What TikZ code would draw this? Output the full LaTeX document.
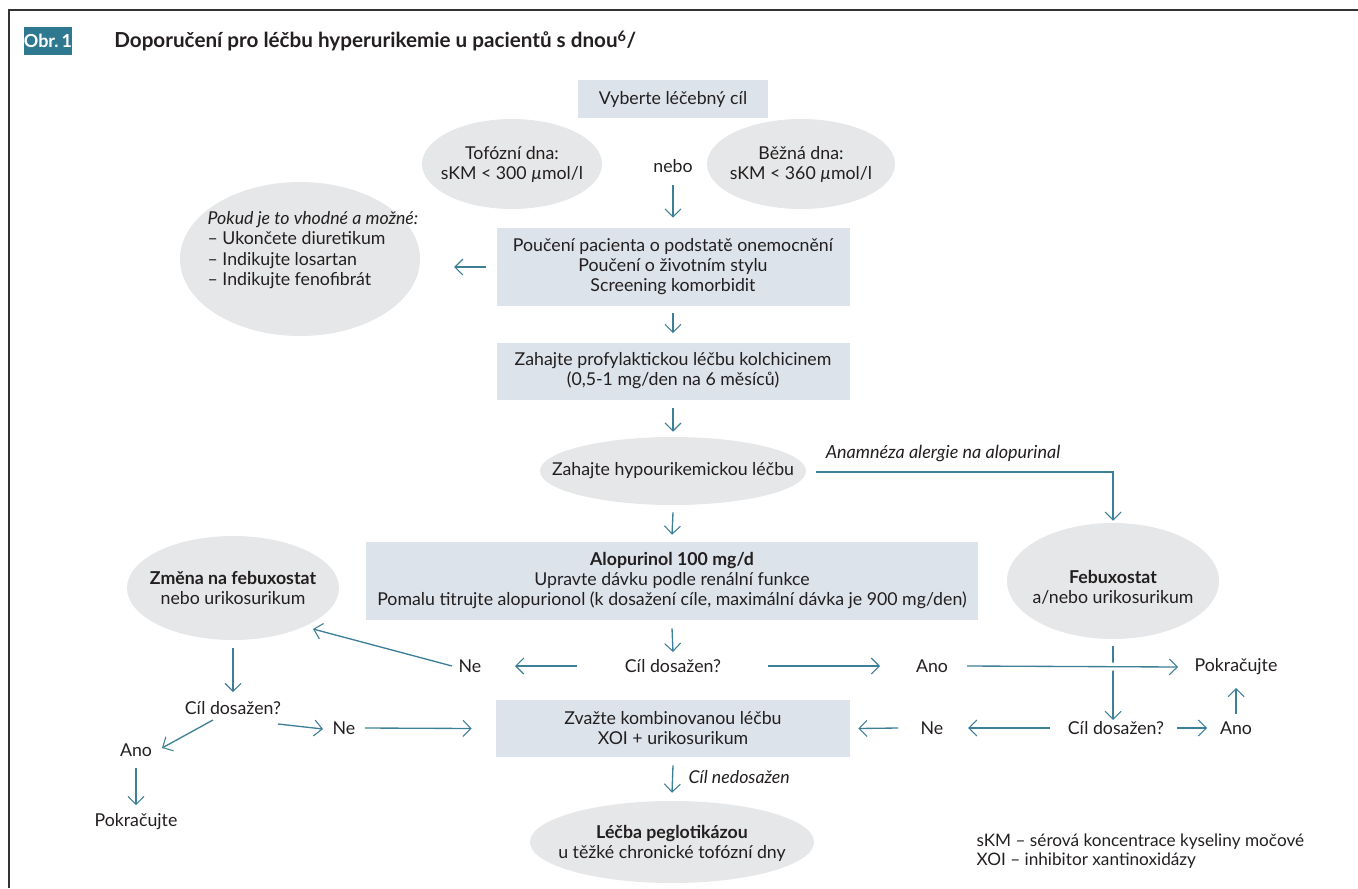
\documentclass[tikz,border=0pt]{standalone}
\usepackage{fontspec}
\setmainfont{Lato}
\usetikzlibrary{arrows.meta,shapes.geometric,calc}
\definecolor{teal1}{HTML}{3E7F98}
\definecolor{tagc}{HTML}{2E7890}
\definecolor{boxc}{HTML}{DCE3EA}
\definecolor{ellc}{HTML}{E6E7E8}
\definecolor{txt}{HTML}{231F20}
\tikzset{
  every node/.style={text=txt, font=\fontsize{13.3}{15}\selectfont},
  gbox/.style={fill=boxc, draw=none, inner sep=0pt, align=center},
  gell/.style={ellipse, fill=ellc, draw=none, inner sep=0pt},
  lbl/.style={inner sep=1pt, align=center},
  arr/.style={draw=teal1, line width=1pt, -{Straight Barb[length=6pt,width=12pt,line width=0.8pt]}},
}
\begin{document}
\begin{tikzpicture}[x=0.75pt,y=-0.75pt]
\useasboundingbox (0,0) rectangle (1358,888);
\draw[line width=1.1pt, color=black!80] (9,888) -- (9,10) -- (1358,10);
% title
\node[fill=tagc, text=white, font=\fontsize{13.5}{15}\bfseries, minimum width=46*0.75pt, minimum height=28*0.75pt, inner sep=0pt] (tag) at (48,41) {Obr.\,1};
\node[anchor=west, font=\fontsize{15.5}{17}\bfseries, inner sep=0pt] (title) at (114,41) {Doporučení pro léčbu hyperurikemie u pacientů s dnou\textsuperscript{6}/};
% nodes
\node[gbox, minimum width=190*0.75pt, minimum height=38*0.75pt] (b1) at (673,99) {Vyberte léčebný cíl};
\node[gell, minimum width=180*0.75pt, minimum height=90*0.75pt] (e1) at (512,164) {};
\node[lbl] (e1t) at (512,164) {Tofózní dna:\\sKM < 300 \textit{µ}mol/l};
\node[lbl] (nebo) at (673,166) {nebo};
\node[gell, minimum width=188*0.75pt, minimum height=90*0.75pt] (e2) at (801,164) {};
\node[lbl] (e2t) at (801,164) {Běžná dna:\\sKM < 360 \textit{µ}mol/l};
\node[gbox, minimum width=353*0.75pt, minimum height=78*0.75pt] (b2) at (673,267) {Poučení pacienta o podstatě onemocnění\\Poučení o životním stylu\\Screening komorbidit};
\node[gell, minimum width=240*0.75pt, minimum height=154*0.75pt] (e3) at (300,259) {};
\node[lbl, anchor=west, align=left, font=\fontsize{13.3}{15.4}\selectfont] (e3t) at (206,250) {\textit{Pokud je to vhodné a možné:}\\– Ukončete diuretikum\\– Indikujte losartan\\– Indikujte fenofibrát};
\node[gbox, minimum width=353*0.75pt, minimum height=57*0.75pt] (b3) at (673,371) {Zahajte profylaktickou léčbu kolchicinem\\(0,5-1 mg/den na 6 měsíců)};
\node[gell, minimum width=266*0.75pt, minimum height=68*0.75pt] (e4) at (673,471) {};
\node[lbl] (e4t) at (673,471) {Zahajte hypourikemickou léčbu};
\node[lbl, font=\fontsize{13.5}{15}\itshape] (allerg) at (943,454) {Anamnéza alergie na alopurinal};
\node[gbox, minimum width=612*0.75pt, minimum height=78*0.75pt] (b4) at (672,581) {\textbf{Alopurinol 100 mg/d}\\Upravte dávku podle renální funkce\\Pomalu titrujte alopurionol (k dosažení cíle, maximální dávka je 900 mg/den)};
\node[gell, minimum width=212*0.75pt, minimum height=104*0.75pt] (e5) at (233,588) {};
\node[lbl] (e5t) at (233,588) {\textbf{Změna na febuxostat}\\nebo urikosurikum};
\node[gell, minimum width=212*0.75pt, minimum height=116*0.75pt] (e6) at (1113,581) {};
\node[lbl] (e6t) at (1113,587) {\textbf{Febuxostat}\\a/nebo urikosurikum};
\node[lbl] (c1) at (673,666) {Cíl dosažen?};
\node[lbl] (ne1) at (470,666) {Ne};
\node[lbl] (ano1) at (932,666) {Ano};
\node[lbl] (pok1) at (1236,667) {Pokračujte};
\node[lbl] (c2) at (1116,728) {Cíl dosažen?};
\node[lbl] (ne2) at (932,728) {Ne};
\node[lbl] (ano2) at (1236,728) {Ano};
\node[gbox, minimum width=354*0.75pt, minimum height=57*0.75pt] (b5) at (673,728.5) {Zvažte kombinovanou léčbu\\XOI + urikosurikum};
\node[lbl] (c3) at (233,708) {Cíl dosažen?};
\node[lbl] (ano3) at (136,750) {Ano};
\node[lbl] (pok3) at (136,822) {Pokračujte};
\node[lbl] (ne3) at (344,728) {Ne};
\node[gell, minimum width=284*0.75pt, minimum height=82*0.75pt] (e7) at (672,842) {};
\node[lbl] (e7t) at (672,843) {\textbf{Léčba peglotikázou}\\u těžké chronické tofózní dny};
\node[lbl, anchor=west, font=\fontsize{13.3}{15}\itshape] (nedos) at (687,777) {Cíl nedosažen};
\node[lbl, anchor=west, align=left, font=\fontsize{12.9}{14.4}\selectfont] (legend) at (975,851) {sKM – sérová koncentrace kyseliny močové\\XOI – inhibitor xantinoxidázy};
% connectors
\draw[arr] ($(nebo)+(0,19)$) -- ($(b2.north)+(0,-10)$);
\draw[arr] ($(b2.west)+(-10,0)$) -- ($(b2.west)+(-42,0)$);
\draw[arr] ($(b2.south)+(0,7)$) -- ($(b3.north)+(0,-9)$);
\draw[arr] ($(b3.south)+(0,8)$) -- ($(e4.north)+(0,-5)$);
\draw[arr] ($(e4.east)+(10,1)$) -| ($(e6.north)+(0,-2)$);
\draw[arr] ($(e4.south)+(0,7)$) -- ($(b4.north)+(0,-7)$);
\draw[arr] ($(b4.south)+(0,8)$) -- ($(c1)+(0,-14)$);
\draw[arr] ($(c1)+(-96,0)$) -- ($(ne1)+(45,0)$);
\draw[arr] ($(ne1)+(-18,0)$) -- ($(e5)+(80,41)$);
\draw[arr] ($(c1)+(95,0)$) -- ($(ano1)+(-52,0)$);
\draw[arr] ($(e6.south)+(0,7)$) -- ($(e6.south |- c2)+(0,-8)$);
\draw[arr, preaction={draw=white, line width=6pt, arrows=-}] ($(ano1)+(35,0)$) -- ($(pok1)+(-58,0)$);
\draw[arr] ($(c2)+(-66,0)$) -- ($(ne2)+(36,0)$);
\draw[arr] ($(ne2)+(-34,0)$) -- ($(b5.east)+(8,0)$);
\draw[arr] ($(c2)+(61,0)$) -- ($(ano2)+(-29,0)$);
\draw[arr] ($(ano2)+(0,-14)$) -- ($(pok1)+(0,21)$);
\draw[arr] ($(e5.south)+(0,8)$) -- ($(c3)+(0,-16)$);
\draw[arr] ($(c3)+(-20,12)$) -- ($(ano3)+(26,-2)$);
\draw[arr] ($(ano3)+(0,18)$) -- ($(pok3)+(0,-17)$);
\draw[arr] ($(c3)+(45,16)$) -- ($(ne3)+(-21,1)$);
\draw[arr] ($(ne3)+(21,0)$) -- ($(b5.west)+(-24,0)$);
\draw[arr] ($(b5.south)+(0,8)$) -- ($(e7.north)+(0,-8)$);
\end{tikzpicture}
\end{document}
